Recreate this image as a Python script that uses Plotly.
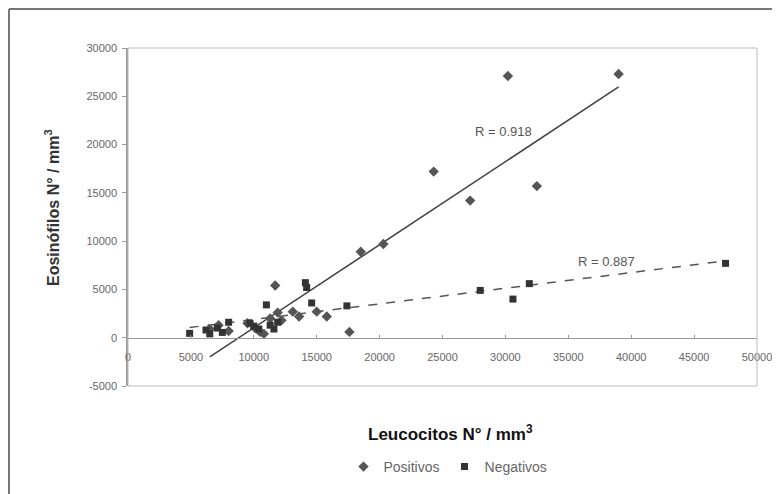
import plotly.graph_objects as go
import numpy as np

# Data
pos_x = [6500, 7200, 8000, 9500, 10100, 10500, 10800, 11300, 11700, 11900, 12200, 13100, 13600, 15000, 15800, 17600, 18500, 20300, 24300, 27200, 30200, 32500, 39000]
pos_y = [900, 1300, 700, 1500, 1000, 600, 400, 2000, 5400, 2600, 1800, 2700, 2200, 2700, 2200, 600, 8900, 9700, 17200, 14200, 27100, 15700, 27300]

neg_x = [4900, 6200, 6500, 7100, 7500, 8000, 9700, 10000, 10400, 11000, 11300, 11600, 11900, 14100, 14200, 14600, 17400, 28000, 30600, 31900, 47500]
neg_y = [450, 800, 400, 1000, 550, 1600, 1500, 1200, 900, 3400, 1300, 900, 1600, 5700, 5200, 3600, 3300, 4900, 4000, 5600, 7700]

# Trend line coefficients (slope, intercept)
pos_trend = (0.86, -7573)
neg_trend = (0.162, 265)
pos_label = "R = 0.918"
neg_label = "R = 0.887"

x_ticks = list(range(0, 50001, 5000))
y_ticks = list(range(-5000, 30001, 5000))

fig = go.Figure()

# trend lines
px_line = np.array([min(pos_x), max(pos_x)])
fig.add_trace(go.Scatter(x=px_line, y=pos_trend[0] * px_line + pos_trend[1], mode="lines",
                         line=dict(color="#444444", width=1.6), showlegend=False, hoverinfo="skip"))
nx_line = np.array([min(neg_x), max(neg_x)])
fig.add_trace(go.Scatter(x=nx_line, y=neg_trend[0] * nx_line + neg_trend[1], mode="lines",
                         line=dict(color="#555555", width=1.5, dash="dash"), showlegend=False, hoverinfo="skip"))

fig.add_trace(go.Scatter(x=pos_x, y=pos_y, mode="markers", name="Positivos",
                         marker=dict(symbol="diamond", size=8, color="#555555")))
fig.add_trace(go.Scatter(x=neg_x, y=neg_y, mode="markers", name="Negativos",
                         marker=dict(symbol="square", size=7, color="#333333")))

# page offset of 8px (body margin)
OFF = 8
W, H = 780 - OFF, 494 - OFF
L, T = 128 - OFF, 48 - OFF
R = W - (757 - OFF)
B = H - (386 - OFF)
pw, ph = W - L - R, H - T - B

def px(xp):
    return (xp - OFF - L) / pw

def py(yp):
    return (H - B - (yp - OFF)) / ph

tickfont = dict(family="Liberation Sans, Arial, sans-serif", size=11, color="#666666")

fig.update_layout(
    width=W, height=H,
    margin=dict(l=L, r=R, t=T, b=B, autoexpand=False),
    paper_bgcolor="white", plot_bgcolor="white",
    font=dict(family="Liberation Sans, Arial, sans-serif"),
    xaxis=dict(range=[0, 50000], tickvals=x_ticks, ticktext=[str(v) for v in x_ticks],
               showgrid=False, zeroline=False, showline=True, linecolor="#999999", linewidth=1,
               ticks="inside", ticklen=3, tickcolor="#999999", tickfont=tickfont,
               ticklabelstandoff=9,
               anchor="free", position=5000 / 35000, automargin=False),
    yaxis=dict(range=[-5000, 30000], tickvals=y_ticks, ticktext=[str(v) for v in y_ticks],
               showgrid=False, zeroline=False, showline=True, linecolor="#999999", linewidth=1.5,
               ticks="outside", ticklen=4, tickcolor="#999999", tickfont=tickfont,
               ticklabelstandoff=3, automargin=False),
    legend=dict(orientation="h", x=px(448), y=py(467), xanchor="center", yanchor="middle",
                font=dict(size=14, color="#666666"), itemwidth=30, tracegroupgap=0),
    showlegend=True,
)

# plot frame
fig.add_shape(type="rect", xref="x domain", yref="y domain", x0=0, x1=1, y0=0, y1=1,
              line=dict(color="#bbbbbb", width=1))
# outer border (top and left)
fig.add_shape(type="line", xref="paper", yref="paper", x0=px(9), x1=px(781), y0=py(9), y1=py(9),
              line=dict(color="#777777", width=2))
fig.add_shape(type="line", xref="paper", yref="paper", x0=px(9), x1=px(9), y0=py(9), y1=py(495),
              line=dict(color="#777777", width=2))

# R labels
fig.add_annotation(x=29860, y=21400, xref="x", yref="y", text=pos_label, showarrow=False,
                   font=dict(size=13, color="#555555"))
fig.add_annotation(x=38060, y=7900, xref="x", yref="y", text=neg_label, showarrow=False,
                   font=dict(size=13, color="#555555"))

# axis titles
fig.add_annotation(x=px(450), y=py(433), xref="paper", yref="paper", xanchor="center", yanchor="middle",
                   text="<b>Leucocitos N° / mm<sup>3</sup></b>", showarrow=False,
                   font=dict(size=17, color="#111111"))
fig.add_annotation(x=px(52), y=py(208), xref="paper", yref="paper", xanchor="center", yanchor="middle",
                   text="<b>Eosinófilos N° / mm<sup>3</sup></b>", showarrow=False, textangle=-90,
                   font=dict(size=16, color="#333333"))

fig.write_html("out.html")
